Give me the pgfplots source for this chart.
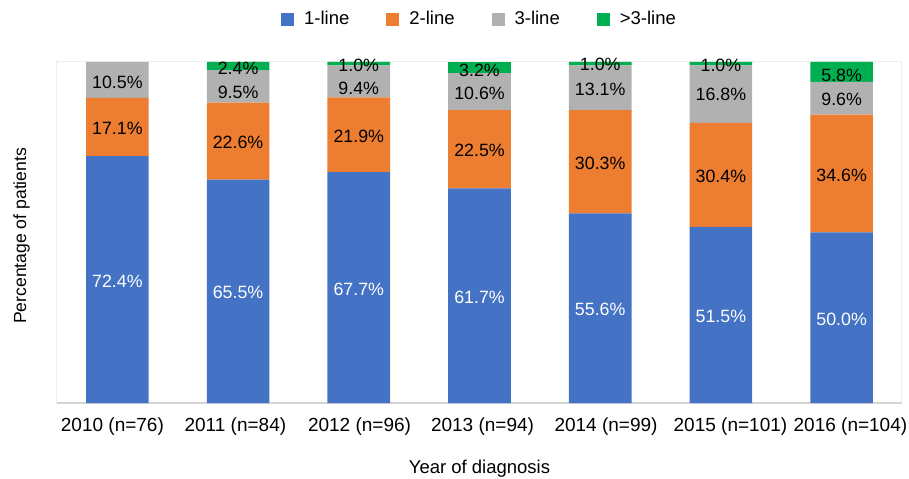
\documentclass[border=0pt]{standalone}
\usepackage{fontspec}
\setmainfont{Liberation Sans}
\usepackage{pgfplots}
\usepackage{pgfplotstable}
\pgfplotsset{compat=1.18}
\definecolor{c1}{HTML}{4472C4}
\definecolor{c2}{HTML}{ED7D31}
\definecolor{c3}{HTML}{B1B1B1}
\definecolor{c4}{HTML}{00B050}
\newcommand\fs{\fontsize{18.5bp}{22bp}\selectfont}
\newcommand\fl{\fontsize{17.8bp}{21bp}\selectfont}
% a..d: percentages per line of therapy; s: row total (100% stacked chart)
\pgfplotstableread{
x a b c d s oa ob oc od
0 72.4 17.1 10.5 0.0 100.0 1.5 1.5 2.0 0
1 65.5 22.6 9.5 2.4 100.0 1.5 1.5 5.6 1.9
2 67.7 21.9 9.4 1.0 100.0 1.5 1.5 7.2 1.3
3 61.7 22.5 10.6 3.2 98.0 1.5 1.5 2.1 2.4
4 55.6 30.3 13.1 1.0 100.0 1.5 1.5 1.2 1.0
5 51.5 30.4 16.8 1.0 99.7 1.5 1.5 0.7 1.8
6 50.0 34.6 9.6 5.8 100.0 1.5 1.5 1.6 3.4
}\data
\pgfplotsset{
  seg/.style n args={4}{
    fill=#1, draw=none,
    point meta=explicit symbolic,
    visualization depends on={\thisrow{#2} \as \hh},
    visualization depends on={\thisrow{#3} \as \off},
    nodes near coords={\ifdim\hh pt>0.05pt\relax\pgfplotspointmeta\%\fi},
    every node near coord/.style={anchor=center, inner sep=0pt, text=#4, font=\fl,
      yshift={-\off*1.00375}},
    legend image code/.code={\fill[#1] (0bp,-6.5bp) rectangle (13bp,6.5bp);}
  }
}
\begin{document}
\begin{tikzpicture}
\useasboundingbox (-57bp,-76bp) rectangle (852bp,403bp);
\begin{axis}[
  scale only axis, width=845bp, height=341bp,
  ybar stacked, bar width=62.6bp,
  xmin=-0.5, xmax=6.5, ymin=0, ymax=100,
  enlargelimits=false, clip=false,
  xtick={-0.041,0.978,2.006,3.025,4.048,5.079,6.073},
  xticklabels={2010 (n=76),2011 (n=84),2012 (n=96),2013 (n=94),2014 (n=99),2015 (n=101),2016 (n=104)},
  ytick=\empty,
  major tick length=0pt,
  axis line style={draw=black!7, line width=1bp},
  extra y ticks={0}, extra y tick labels={},
  extra y tick style={grid=major, major grid style={draw=black!17, line width=1.3bp}},
  xticklabel style={font=\fontsize{19bp}{22bp}\selectfont, anchor=base, yshift=-28.7bp, text=black},
  xlabel={Year of diagnosis}, ylabel={Percentage of patients},
  xlabel style={font=\fs, at={(axis description cs:0.5,0)}, anchor=base, yshift=-70.3bp},
  ylabel style={font=\fontsize{17.6bp}{21bp}\selectfont, at={(axis description cs:-0.0420,0.49)}, anchor=center},
  legend columns=4,
  legend style={draw=none, font=\fs, at={(0.5,1.126)}, anchor=center,
    /tikz/every odd column/.append style={column sep=8bp},
    /tikz/every even column/.append style={column sep=35bp}},
]
\addplot[seg={c1}{a}{oa}{white}] table[x=x, y expr=\thisrow{a}/\thisrow{s}*100, meta=a] {\data};
\addplot[seg={c2}{b}{ob}{black}] table[x=x, y expr=\thisrow{b}/\thisrow{s}*100, meta=b] {\data};
\addplot[seg={c3}{c}{oc}{black}] table[x=x, y expr=\thisrow{c}/\thisrow{s}*100, meta=c] {\data};
\addplot[seg={c4}{d}{od}{black}] table[x=x, y expr=\thisrow{d}/\thisrow{s}*100, meta=d] {\data};
\legend{1-line,2-line,3-line,>3-line}
\end{axis}
\end{tikzpicture}
\end{document}
